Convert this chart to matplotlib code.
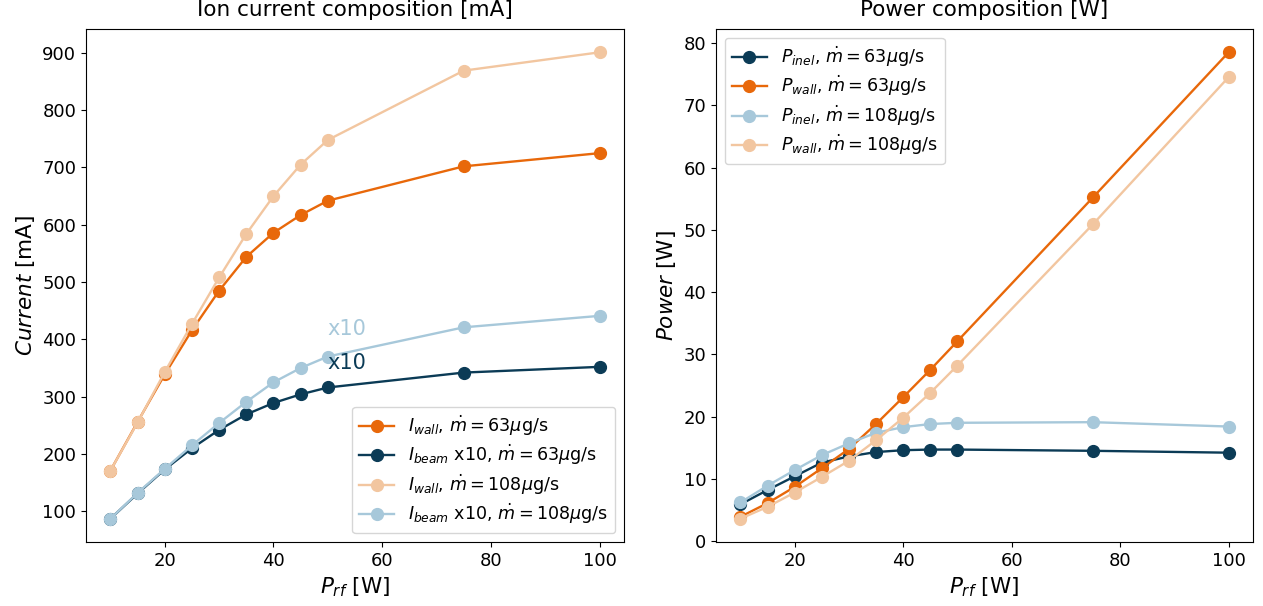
import numpy as np
import matplotlib.pyplot as plt

# RF power sweep [W]
p_rf = [10, 15, 20, 25, 30, 35, 40, 45, 50, 75, 100]

# ion currents [mA], beam current scaled x10
i_wall_63 = [171, 256, 339, 416, 485, 544, 586, 617, 642, 702, 725]
i_beam_63 = [87, 131, 173, 210, 242, 269, 289, 304, 316, 342, 352]
i_wall_108 = [171, 255, 343, 427, 508, 584, 650, 705, 748, 869, 901]
i_beam_108 = [87, 132, 174, 215, 254, 291, 325, 350, 370, 421, 441]

# power balance [W]
p_inel_63 = [5.9, 8.2, 10.4, 12.6, 13.6, 14.3, 14.6, 14.7, 14.7, 14.5, 14.2]
p_wall_63 = [3.9, 6.1, 8.7, 11.7, 14.8, 18.8, 23.1, 27.5, 32.1, 55.2, 78.5]
p_inel_108 = [6.2, 8.9, 11.4, 13.8, 15.7, 17.4, 18.3, 18.8, 19.0, 19.1, 18.4]
p_wall_108 = [3.6, 5.5, 7.8, 10.3, 12.9, 16.2, 19.8, 23.8, 28.2, 50.9, 74.5]

c_navy = '#0b3b56'
c_orange = '#e8680a'
c_lorange = '#f2c6a0'
c_lblue = '#a7c8da'

plt.rcParams['font.size'] = 13
plt.rcParams['legend.fontsize'] = 12.6
plt.rcParams['legend.labelspacing'] = 0.3

fig = plt.figure(figsize=(12.63, 6.06), dpi=100)
W, H = 1263, 606
ax1 = fig.add_axes([86 / W, (H - 542) / H, (624 - 86) / W, (542 - 29) / H])
ax2 = fig.add_axes([716 / W, (H - 542) / H, (1253 - 716) / W, (542 - 29) / H])

kw = dict(marker='o', markersize=8.5, linewidth=1.7)

ax1.plot(p_rf, i_wall_63, color=c_orange, label=r'$I_{wall}$, $\dot{m}=63\mu$g/s', **kw)
ax1.plot(p_rf, i_beam_63, color=c_navy, label=r'$I_{beam}$ x10, $\dot{m}=63\mu$g/s', **kw)
ax1.plot(p_rf, i_wall_108, color=c_lorange, label=r'$I_{wall}$, $\dot{m}=108\mu$g/s', **kw)
ax1.plot(p_rf, i_beam_108, color=c_lblue, label=r'$I_{beam}$ x10, $\dot{m}=108\mu$g/s', **kw)
ax1.text(50, i_beam_108[8] + 48, 'x10', color=c_lblue, fontsize=15, va='center')
ax1.text(50, i_beam_63[8] + 42, 'x10', color=c_navy, fontsize=15, va='center')
ax1.set_title('Ion current composition [mA]', fontsize=15.5, pad=9)
ax1.set_xlabel(r'$P_{rf}$ [W]', fontsize=15.5)
ax1.set_ylabel(r'$Current$ [mA]', fontsize=15.5)
ax1.set_xticks([20, 40, 60, 80, 100])
ax1.set_yticks(np.arange(100, 901, 100))
ax1.legend(loc='lower right')

ax2.plot(p_rf, p_inel_63, color=c_navy, label=r'$P_{inel}$, $\dot{m}=63\mu$g/s', **kw)
ax2.plot(p_rf, p_wall_63, color=c_orange, label=r'$P_{wall}$, $\dot{m}=63\mu$g/s', **kw)
ax2.plot(p_rf, p_inel_108, color=c_lblue, label=r'$P_{inel}$, $\dot{m}=108\mu$g/s', **kw)
ax2.plot(p_rf, p_wall_108, color=c_lorange, label=r'$P_{wall}$, $\dot{m}=108\mu$g/s', **kw)
ax2.set_title('Power composition [W]', fontsize=15.5, pad=9)
ax2.set_xlabel(r'$P_{rf}$ [W]', fontsize=15.5)
ax2.set_ylabel(r'$Power$ [W]', fontsize=15.5)
ax2.set_xticks([20, 40, 60, 80, 100])
ax2.set_yticks(np.arange(0, 81, 10))
ax2.legend(loc='upper left')

fig.savefig('out.png', dpi=100)
